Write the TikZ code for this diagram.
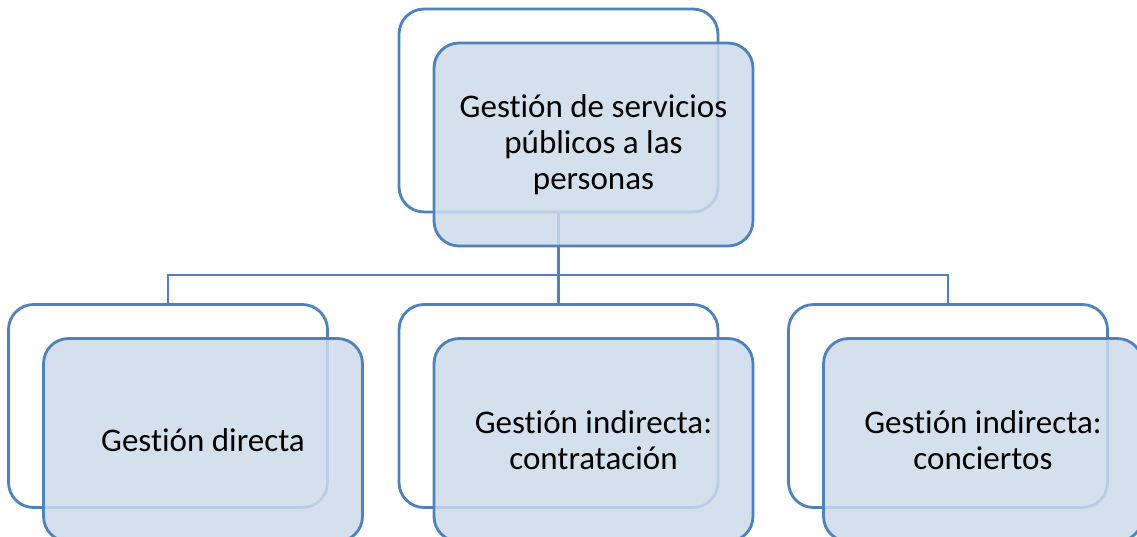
\documentclass[tikz,border=0pt]{standalone}
\usepackage{fontspec}
\setmainfont[Ligatures=NoCommon]{Carlito}
\definecolor{boxblue}{RGB}{79,129,189}
\definecolor{boxfill}{RGB}{206,219,235}
\begin{document}
\begin{tikzpicture}
        [x=0.02cm, y=-0.02cm,
        back/.style={draw=boxblue, line width=1.6pt, rounded corners=0.5cm, fill=white, minimum width=6.38cm, minimum height=4.06cm},
        front/.style={back, fill=boxfill, fill opacity=.85, text opacity=1, align=center, font=\fontsize{18.8}{20.6}\selectfont},
        link/.style={draw=boxblue, line width=1.6pt}]

        \useasboundingbox (0,0) rectangle (1137,537);

        \node [back] (topB) at (558.5,110.5) {};
        \node [back] (leftB) at (168,406) {};
        \node [back] (midB) at (558.5,406) {};
        \node [back] (rightB) at (948,406) {};

        \coordinate (bus) at (558.5,275);
        \draw [link] (topB.south) -- (bus) -| (leftB.north);
        \draw [link] (bus) -| (midB.north);
        \draw [link] (bus) -| (rightB.north);

        \node [front] (top) at (593.5,144.5) {Gestión de servicios\\públicos a las\\personas};
        \node [front] (left) at (203,440) {Gestión directa};
        \node [front] (mid) at (593.5,440) {Gestión indirecta:\\contratación};
        \node [front] (right) at (983,440) {Gestión indirecta:\\conciertos};
    \end{tikzpicture}
\end{document}
